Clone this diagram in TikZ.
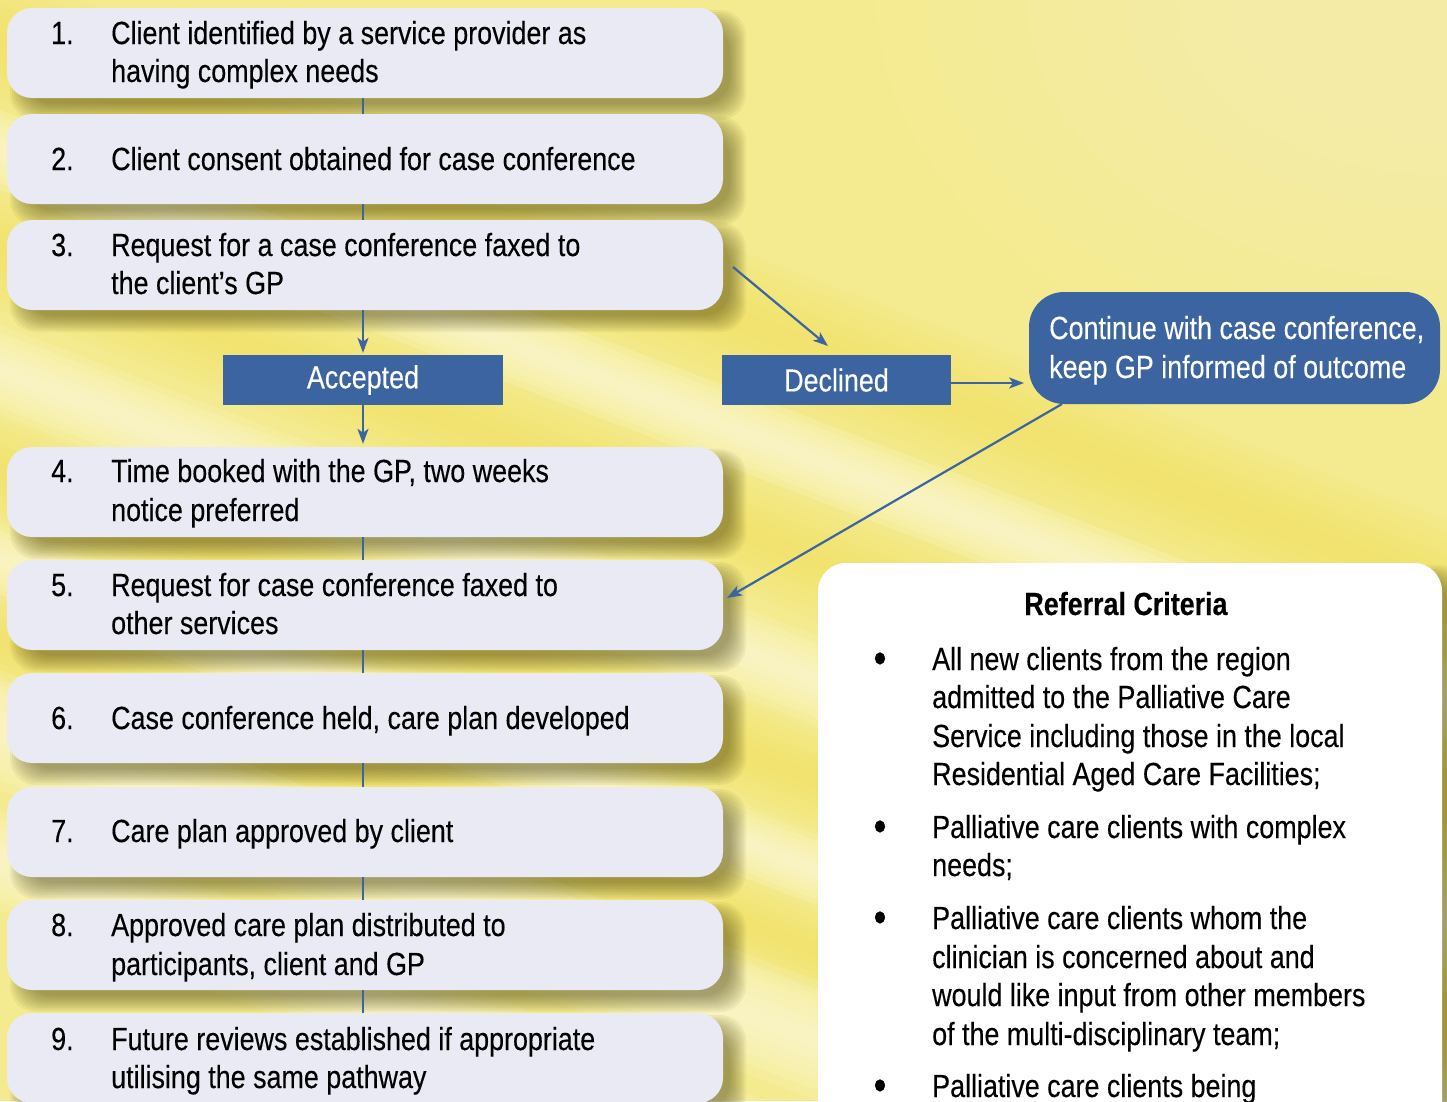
\documentclass[tikz,border=0pt]{standalone}
\usepackage{fontspec}
\setmainfont{Liberation Sans}[FakeStretch=0.84,FakeBold=0.25]
\usetikzlibrary{arrows.meta}
\definecolor{bgY}{HTML}{F4EB90}
\definecolor{bgS}{HTML}{F2E264}
\definecolor{bgL}{HTML}{FDF9DC}
\definecolor{boxfill}{HTML}{E9EAF3}
\definecolor{navy}{HTML}{3B64A0}
\definecolor{shad}{HTML}{3A3300}
\newcommand\myband[4]{% y at x=0, half thickness, colour, slope
  \foreach \k in {1,...,6}{%
    \fill[#3,opacity=0.17] (-60,{#1-#4*60-#2*\k/6}) -- (1510,{#1+#4*1510-#2*\k/6}) -- (1510,{#1+#4*1510+#2*\k/6}) -- (-60,{#1-#4*60+#2*\k/6}) -- cycle;}}
\newcommand\boxshadow[4]{%
  \foreach \k in {-6,-4,...,10}{%
    \fill[shad,opacity=0.06,rounded corners=26pt] ({#1+13-\k},{#2+12-\k}) rectangle ({#3+13+\k},{#4+12+\k});}}
\newcommand\flowbox[2]{%
  \boxshadow{7}{#2}{723}{#2+90}%
  \node[stepbox] (#1) at (365,{#2+45}) {};}
\begin{document}
\begin{tikzpicture}[x=1pt,y=-1pt,font=\fontsize{32}{38}\selectfont,
  stepbox/.style={fill=boxfill,rounded corners=25pt,minimum width=716pt,minimum height=90pt,inner sep=0pt,draw=none},
  txt/.style={anchor=base west,inner sep=0pt,text=black},
  wtxt/.style={anchor=base west,inner sep=0pt,text=white},
  bul/.style={anchor=base,inner sep=0pt,text=black,font=\fontsize{44}{38}\selectfont},
  tag/.style={fill=navy,text=white,inner sep=0pt,minimum height=50pt},
  conn/.style={draw=navy,line width=2pt},
  arr/.style={draw=navy,line width=2.2pt,-{Stealth[length=15pt,width=11pt,inset=4pt]}}]
\useasboundingbox (0,0) rectangle (1447,1101);
\begin{scope}
\clip (0,0) rectangle (1447,1101);
% background
\fill[bgY] (0,0) rectangle (1447,1101);
\myband{40}{70}{bgS}{0.38}
\myband{250}{60}{bgS}{0.38}
\myband{470}{50}{bgS}{0.38}
\myband{640}{45}{bgS}{0.38}
\myband{150}{40}{bgL}{0.38}
\myband{370}{45}{bgL}{0.38}
\myband{560}{35}{bgL}{0.38}
\myband{730}{60}{bgL}{0.38}
\myband{860}{50}{bgL}{0.38}
\foreach \k in {1,...,8}{\fill[bgL,opacity=0.05] (1447,0) ellipse ({620-50*\k} and {420-35*\k});}
% flow boxes
\flowbox{b1}{8}
\flowbox{b2}{114}
\flowbox{b3}{220}
\flowbox{b4}{447}
\flowbox{b5}{560}
\flowbox{b6}{673}
\flowbox{b7}{787}
\flowbox{b8}{900}
\flowbox{b9}{1013}
% texts
\node[txt] (n1) at (51,44) {1.};
\node[txt] (t1a) at (111,44) {Client identified by a service provider as};
\node[txt] (t1b) at (111,82) {having complex needs};
\node[txt] (n2) at (51,170) {2.};
\node[txt] (t2a) at (111,170) {Client consent obtained for case conference};
\node[txt] (n3) at (51,256) {3.};
\node[txt] (t3a) at (111,256) {Request for a case conference faxed to};
\node[txt] (t3b) at (111,294) {the client’s GP};
\node[txt] (n4) at (51,482) {4.};
\node[txt] (t4a) at (111,482) {Time booked with the GP, two weeks};
\node[txt] (t4b) at (111,521) {notice preferred};
\node[txt] (n5) at (51,596) {5.};
\node[txt] (t5a) at (111,596) {Request for case conference faxed to};
\node[txt] (t5b) at (111,634) {other services};
\node[txt] (n6) at (51,729) {6.};
\node[txt] (t6a) at (111,729) {Case conference held, care plan developed};
\node[txt] (n7) at (51,842) {7.};
\node[txt] (t7a) at (111,842) {Care plan approved by client};
\node[txt] (n8) at (51,936) {8.};
\node[txt] (t8a) at (111,936) {Approved care plan distributed to};
\node[txt] (t8b) at (111,975) {participants, client and GP};
\node[txt] (n9) at (51,1050) {9.};
\node[txt] (t9a) at (111,1050) {Future reviews established if appropriate};
\node[txt] (t9b) at (111,1088) {utilising the same pathway};
% decision tags
\node[tag,minimum width=280pt] (acc) at (363,380) {Accepted};
\node[tag,minimum width=229pt] (dec) at (836.5,380) {Declined};
% continue box
\node[fill=navy,rounded corners=35pt,minimum width=411pt,minimum height=112pt,inner sep=0pt] (cont) at (1234.5,348) {};
\node[wtxt] (c1) at (1049,339) {Continue with case conference,};
\node[wtxt] (c2) at (1049,378) {keep GP informed of outcome};
% connectors
\draw[conn] (b1.south -| acc.north) -- (b2.north -| acc.north);
\draw[conn] (b2.south -| acc.north) -- (b3.north -| acc.north);
\draw[arr,shorten >=2pt] (b3.south -| acc.north) -- (acc.north);
\draw[arr,shorten >=3pt] (acc.south) -- (acc.south |- b4.north);
\draw[conn] (b4.south -| acc.north) -- (b5.north -| acc.north);
\draw[conn] (b5.south -| acc.north) -- (b6.north -| acc.north);
\draw[conn] (b6.south -| acc.north) -- (b7.north -| acc.north);
\draw[conn] (b7.south -| acc.north) -- (b8.north -| acc.north);
\draw[conn] (b8.south -| acc.north) -- (b9.north -| acc.north);
\coordinate (d1) at (733,267);
\coordinate (d2) at (828,346);
\draw[arr] (d1) -- (d2);
\coordinate (e1) at (951,383);
\coordinate (e2) at (1024,383);
\draw[arr] (e1) -- (e2);
\coordinate (f1) at (1062,404);
\coordinate (f2) at (727,598);
\draw[arr] (f1) -- (f2);
% referral criteria
\boxshadow{818}{563}{1442}{1160}
\node[fill=white,rounded corners=28pt,minimum width=624pt,minimum height=597pt,inner sep=0pt] (ref) at (1130,861.5) {};
\node[anchor=base,inner sep=0pt,font=\fontsize{32}{38}\selectfont\bfseries] (rt) at (1126,615) {Referral Criteria};
\node[bul] (p1) at (880,673) {•};
\node[txt] (r1a) at (932,670) {All new clients from the region};
\node[txt] (r1b) at (932,708) {admitted to the Palliative Care};
\node[txt] (r1c) at (932,747) {Service including those in the local};
\node[txt] (r1d) at (932,785) {Residential Aged Care Facilities;};
\node[bul] (p2) at (880,841) {•};
\node[txt] (r2a) at (932,838) {Palliative care clients with complex};
\node[txt] (r2b) at (932,876) {needs;};
\node[bul] (p3) at (880,932) {•};
\node[txt] (r3a) at (932,929) {Palliative care clients whom the};
\node[txt] (r3b) at (932,968) {clinician is concerned about and};
\node[txt] (r3c) at (932,1006) {would like input from other members};
\node[txt] (r3d) at (932,1045) {of the multi-disciplinary team;};
\node[bul] (p4) at (880,1100) {•};
\node[txt] (r4a) at (932,1097) {Palliative care clients being};
\end{scope}
\end{tikzpicture}
\end{document}
